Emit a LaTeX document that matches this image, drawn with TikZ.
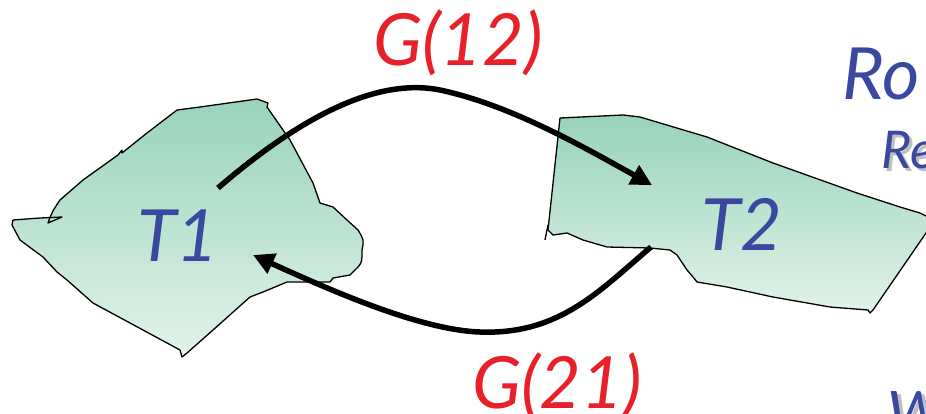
\documentclass[tikz,border=0pt]{standalone}
\usepackage{fontspec}
\setmainfont{Lato}
\usetikzlibrary{arrows.meta}
\definecolor{gtop}{RGB}{152,211,186}
\definecolor{gbot}{RGB}{226,243,234}
\definecolor{tblue}{RGB}{58,72,160}
\definecolor{gred}{RGB}{232,32,42}
\tikzset{
  region/.style={draw=black, line width=1.3pt, top color=gtop, bottom color=gbot, line join=round},
  flow/.style={line width=5.5pt, -{Triangle[length=21pt,width=21pt]}},
  tlabel/.style={text=tblue, font=\fontsize{72}{72}\selectfont\itshape, inner sep=0pt},
  glabel/.style={text=gred, font=\fontsize{72}{72}\selectfont\itshape, inner sep=0pt},
  shadowtext/.style={text=black!25, inner sep=0pt, anchor=west},
}
\begin{document}
\begin{tikzpicture}[x=1pt,y=-1pt]
\useasboundingbox (0,0) rectangle (926,413);
\clip (0,0) rectangle (926,413);
% region T1
\path[region] (13,220) -- (40,218) -- (62,217) -- (48,223)
  .. controls (52,212) .. (60,200) -- (83,180) -- (118,155) -- (122,150) -- (122,153)
  -- (147,133) -- (177,110) -- (200,107) -- (257,99) -- (268,103) -- (267,107)
  -- (290,140) -- (313,183) -- (320,203) -- (333,207) -- (347,220) -- (358,230)
  .. controls (364,240) .. (362,250) .. controls (362,262) .. (358,267)
  -- (350,275) -- (333,278) -- (330,282) -- (287,282) -- (263,292) -- (250,297)
  -- (213,330) -- (187,353) -- (182,357) -- (180,350) -- (93,303) -- (67,280)
  -- (57,272) -- (43,257) -- (20,240) -- (12,225) -- cycle;
% region T2
\path[region] (560,118) -- (623,115) -- (640,117) -- (707,137) -- (773,163)
  -- (857,193) -- (900,207) -- (920,213) -- (930,218) -- (930,230) -- (926,233)
  -- (873,310) -- (870,313) -- (868,310) -- (830,307) -- (773,297) -- (727,287)
  -- (697,282) -- (693,277) -- (687,270) -- (677,255) -- (670,250) -- (650,248)
  -- (607,247) -- (583,240) -- (567,233) -- (553,235) -- (548,230) -- cycle;
\draw[line width=1.3pt] (548,225) -- (545,240);
% labels
\node[tlabel] (t1) at (178,236) {T1};
\node[tlabel] (t2) at (742,224) {T2};
\node[glabel] (g12) at (458,43) {G(12)};
\node[glabel] (g21) at (557,386) {G(21)};
\node[tlabel, anchor=west] (ro) at (842,74) {Ro};
\node[shadowtext, font=\fontsize{52}{52}\selectfont\itshape] at (884,153) {Re};
\node[text=tblue, font=\fontsize{52}{52}\selectfont\itshape, inner sep=0pt, anchor=west] (re) at (881,150) {Re};
\node[shadowtext, font=\fontsize{60}{60}\selectfont\itshape] at (891,416) {W};
\node[text=tblue, font=\fontsize{60}{60}\selectfont\itshape, inner sep=0pt, anchor=west] (w) at (887,413) {W};
% connectors
\coordinate (a1) at (218,188);
\coordinate (a2) at (652,185);
\coordinate (b1) at (651,247);
\coordinate (b2) at (253,255);
\draw[flow] (a1) .. controls (320,100) and (390,80) .. (440,90) .. controls (510,105) and (580,145) .. (a2);
\draw[flow] (b1) .. controls (600,290) and (560,335) .. (480,332) .. controls (420,330) and (330,290) .. (b2);
\end{tikzpicture}
\end{document}
